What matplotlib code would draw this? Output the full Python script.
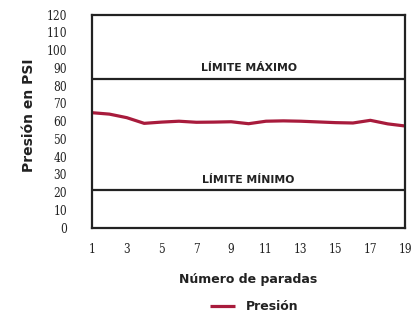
import matplotlib
matplotlib.use("Agg")
import matplotlib.pyplot as plt

stops = list(range(1, 20))
presion = [64.8, 64.0, 62.0, 58.8, 59.5, 60.0, 59.4, 59.5, 59.7, 58.6,
           60.0, 60.2, 60.0, 59.6, 59.2, 59.0, 60.5, 58.5, 57.3]
limite_max = 84
limite_min = 21
yticks = list(range(0, 121, 10))
xticks = list(range(1, 20, 2))

line_color = '#A81B3C'
frame_color = '#222222'

fig = plt.figure(figsize=(4.17, 3.16), dpi=100)
ax = fig.add_axes([0.2206, 0.2794, 0.751, 0.674])
ax.plot(stops, presion, color=line_color, lw=2.3, solid_capstyle='butt',
        solid_joinstyle='round', label='Presión')
ax.axhline(limite_max, color=frame_color, lw=1.6)
ax.axhline(limite_min, color=frame_color, lw=1.6)
ax.text(10, limite_max + 3, 'LÍMITE MÁXIMO', ha='center', va='bottom',
        fontsize=7.8, fontweight='bold', color='#222222')
ax.text(10, limite_min + 3, 'LÍMITE MÍNIMO', ha='center', va='bottom',
        fontsize=7.8, fontweight='bold', color='#222222')
ax.set_xlim(1, 19)
ax.set_ylim(0, 120)
ax.set_xticks(xticks)
ax.set_yticks(yticks)
ax.tick_params(length=0, labelsize=8.5, colors='#222222')
ax.tick_params(axis='y', pad=18)
ax.tick_params(axis='x', pad=11)
for lab in ax.get_xticklabels() + ax.get_yticklabels():
    lab.set_fontfamily('DejaVu Serif')
    lab.set_fontstretch('condensed')
for s in ax.spines.values():
    s.set_linewidth(1.6)
    s.set_color(frame_color)
ax.set_ylabel('Presión en PSI', fontsize=10, fontweight='bold', color='#222222')
ax.yaxis.set_label_coords(-0.178, 0.53)
ax.set_xlabel('Número de paradas', fontsize=9, fontweight='bold', labelpad=12, color='#222222')
leg = fig.legend(loc='center', bbox_to_anchor=(0.61, 0.03), frameon=False,
                 prop={'weight': 'bold', 'size': 9}, handlelength=2.0,
                 handletextpad=0.9)
for t in leg.get_texts():
    t.set_color('#222222')
fig.savefig('out.png', dpi=100)
